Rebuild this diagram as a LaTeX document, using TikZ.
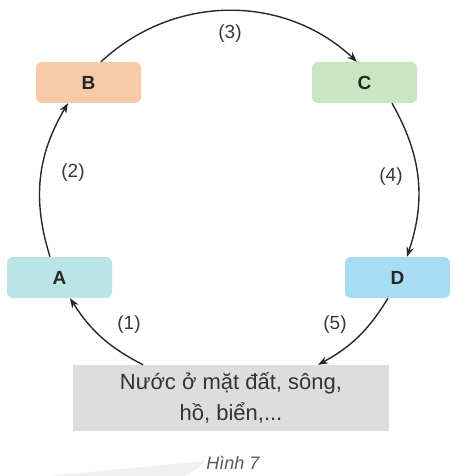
\documentclass[tikz,border=0pt]{standalone}
\usepackage{fontspec}
\setmainfont{Liberation Sans}
\usetikzlibrary{arrows.meta}
\definecolor{cB}{RGB}{248,203,168}
\definecolor{cC}{RGB}{200,230,192}
\definecolor{cA}{RGB}{187,228,228}
\definecolor{cD}{RGB}{168,220,245}
\definecolor{cG}{RGB}{221,221,221}
\definecolor{cLine}{RGB}{40,40,40}
\definecolor{cText}{RGB}{55,55,55}
\tikzset{
  stage/.style={draw=none, rounded corners=6pt, minimum width=105pt, minimum height=41pt,
    font=\fontsize{19}{22}\selectfont\bfseries, text=black!85, inner sep=0pt},
  flow/.style={draw=cLine, line width=1.4pt, -{Stealth[length=10pt,width=7.5pt]}},
  steplabel/.style={font=\fontsize{19}{22}\selectfont, text=cText, inner sep=0pt},
}
\begin{document}
\begin{tikzpicture}[x=1pt,y=-1pt]
\useasboundingbox (0,0) rectangle (473,476);
% faint background swoosh
\fill[black!6] (48,476) -- (205,461) -- (198,468) -- (185,476) -- cycle;
% nodes
\node[stage, fill=cB] (B) at (88.5,82.5) {B};
\node[stage, fill=cC] (C) at (364.5,82.5) {C};
\node[stage, fill=cA] (A) at (59.5,277.5) {A};
\node[stage, fill=cD] (D) at (397.5,277.5) {D};
\node[fill=cG, minimum width=316pt, minimum height=66pt, inner sep=0pt,
  align=center, font=\fontsize{22}{31}\selectfont, text=black!80] (W) at (231,398)
  {Nước ở mặt đất, sông,\\hồ, biển,...};
\node[font=\fontsize{18}{20}\selectfont\itshape, text=black!65, inner sep=0pt] (cap) at (233,463) {Hình 7};
% connectors
\draw[flow] ([xshift=-88pt]W.north) to[bend left=15] ([xshift=10.5pt]A.south);
\draw[flow] ([xshift=-9.5pt]A.north) to[bend left=24] ([xshift=-20.5pt]B.south);
\draw[flow] ([xshift=12.5pt]B.north) to[bend left=43] ([xshift=-7.5pt]C.north);
\draw[flow] ([xshift=27.5pt]C.south) to[bend left=24] ([xshift=9.5pt]D.north);
\draw[flow] ([xshift=-9.5pt]D.south) to[bend left=15] ([xshift=87pt]W.north);
% labels
\node[steplabel] (l3) at (230,34) {(3)};
\node[steplabel] (l2) at (73,173) {(2)};
\node[steplabel] (l4) at (391,177) {(4)};
\node[steplabel] (l1) at (129,325) {(1)};
\node[steplabel] (l5) at (335,325) {(5)};
\end{tikzpicture}
\end{document}
